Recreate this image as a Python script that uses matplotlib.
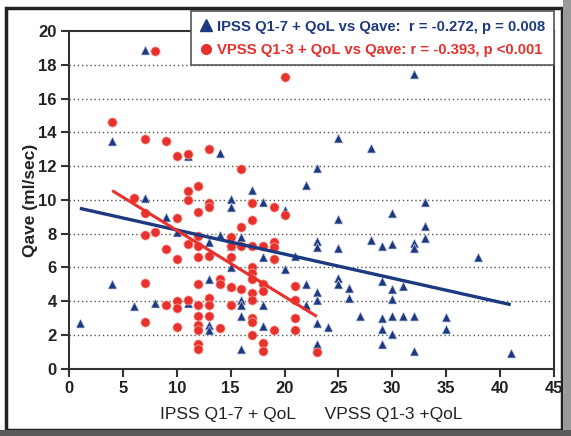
import matplotlib
matplotlib.use("Agg")
import matplotlib.pyplot as plt
from matplotlib.lines import Line2D
from matplotlib.patches import Rectangle
import numpy as np

plt.rcParams['font.family'] = ['Liberation Sans Narrow', 'Liberation Sans', 'DejaVu Sans']

# ---- data ----
ipss_x = [1, 4, 4, 6, 7, 7, 8, 9, 10, 11, 11, 13, 13, 13, 13, 14, 14, 15, 15, 15, 15, 15,
          16, 16, 16, 16, 16, 17, 18, 18, 18, 18, 20, 20, 21, 22, 22, 22, 23, 23, 23, 23,
          23, 23, 23, 24, 25, 25, 25, 25, 25, 26, 26, 27, 28, 28, 29, 29, 29, 29, 29,
          30, 30, 30, 30, 30, 30, 31, 31, 32, 32, 32, 32, 32, 33, 33, 33, 35, 35, 38, 41]
ipss_y = [2.7, 13.5, 5.0, 3.7, 18.9, 10.1, 3.9, 9.0, 8.1, 12.6, 3.9, 7.5, 5.3, 2.6, 2.3,
          12.75, 7.9, 10.05, 9.6, 7.3, 6.05, 4.9, 7.8, 4.1, 3.8, 3.1, 1.15, 10.6, 9.9, 6.65,
          3.8, 2.55, 9.4, 5.9, 6.7, 10.9, 5.0, 3.8, 11.9, 7.55, 7.2, 4.55, 4.1, 2.7, 1.5,
          2.45, 13.65, 8.85, 7.15, 5.4, 5.0, 4.8, 4.2, 3.15, 13.1, 7.6, 7.3, 5.2, 3.0, 2.35,
          1.5, 9.2, 7.4, 4.7, 4.15, 3.15, 2.07, 4.9, 3.15, 17.45, 7.45, 7.15, 3.15, 1.05,
          9.85, 8.45, 7.75, 3.05, 2.35, 6.6, 0.95]

vpss_x = [4, 6, 7, 7, 7, 7, 7, 8, 8, 9, 9, 9, 10, 10, 10, 10, 10, 10, 11, 11, 11, 11, 11,
          12, 12, 12, 12, 12, 12, 12, 12, 12, 12, 12, 12, 13, 13, 13, 13, 13, 13, 13,
          14, 14, 14, 15, 15, 15, 15, 15, 16, 16, 16, 16, 17, 17, 17, 17, 17, 17, 17, 17,
          17, 17, 17, 18, 18, 18, 18, 18, 19, 19, 19, 19, 19, 20, 20, 21, 21, 21, 21, 23]
vpss_y = [14.6, 10.1, 13.6, 9.2, 7.9, 5.1, 2.75, 18.8, 8.1, 13.5, 7.1, 3.8, 12.6, 8.9, 6.5,
          4.0, 3.6, 2.5, 12.7, 10.5, 10.0, 7.4, 4.05, 10.8, 9.3, 7.85, 7.3, 6.6, 5.0, 3.8,
          3.1, 2.6, 2.3, 1.5, 1.15, 13.0, 9.8, 9.6, 6.7, 4.2, 3.8, 3.1, 5.3, 5.0, 2.4, 7.8,
          7.3, 6.6, 4.85, 3.75, 11.8, 8.4, 7.3, 4.7, 9.8, 8.8, 7.3, 6.05, 5.7, 5.3, 4.5,
          4.1, 3.0, 2.8, 2.0, 7.3, 5.0, 4.6, 1.55, 1.05, 9.6, 7.5, 7.2, 6.5, 2.3, 17.3, 9.1,
          4.9, 4.05, 3.0, 2.3, 1.0]

# regression lines (end points)
ipss_fit_x = [1, 41]
ipss_fit_y = [9.5, 3.8]
vpss_fit_x = [4, 23]
vpss_fit_y = [10.55, 3.1]

ipss_label = "IPSS Q1-7 + QoL vs Qave:  r = -0.272, p = 0.008"
vpss_label = "VPSS Q1-3 + QoL vs Qave: r = -0.393, p <0.001"
xlabel = "IPSS Q1-7 + QoL      VPSS Q1-3 +QoL"
ylabel = "Qave (ml/sec)"
xticks = list(range(0, 46, 5))
yticks = list(range(0, 21, 2))

BLUE = '#1d3a80'
RED = '#e8302c'

fig = plt.figure(figsize=(5.71, 4.36), dpi=100)
ax = fig.add_axes([0.121, 0.154, 0.849, 0.775])

# grid
for yv in yticks[1:-1]:
    ax.axhline(yv, color='#555555', lw=1.0, ls=(0, (1, 2)), zorder=0)

ax.scatter(ipss_x, ipss_y, marker='^', s=42, color=BLUE, edgecolors='#c8d0e6', linewidths=0.5, zorder=3)
ax.scatter(vpss_x, vpss_y, marker='o', s=44, color=RED, edgecolors='#f4b0a8', linewidths=0.5, zorder=3)

ax.plot(ipss_fit_x, ipss_fit_y, color=BLUE, lw=2.4, zorder=4, solid_capstyle='butt')
ax.plot(vpss_fit_x, vpss_fit_y, color=RED, lw=2.2, zorder=4, solid_capstyle='butt')

ax.set_xlim(0, 45)
ax.set_ylim(0, 20)
ax.set_xticks(xticks)
ax.set_yticks(yticks)
for lab in ax.get_xticklabels() + ax.get_yticklabels():
    lab.set_fontweight('bold')
    lab.set_fontsize(12)
    lab.set_color('#222222')
ax.tick_params(axis='both', direction='out', length=6, width=1.5, color='#333333', pad=3)

for sp in ax.spines.values():
    sp.set_linewidth(1.5)
    sp.set_color('#333333')

ax.set_ylabel(ylabel, fontsize=12.5, fontweight='bold', color='#222222', labelpad=0)
ax.set_xlabel(xlabel, fontsize=12.5, color='#222222', labelpad=8)

handles = [Line2D([], [], marker='^', ls='none', color=BLUE, markersize=8),
           Line2D([], [], marker='o', ls='none', color=RED, markersize=7)]
leg = ax.legend(handles, [ipss_label, vpss_label], loc='upper right',
                bbox_to_anchor=(1.0, 1.058), borderaxespad=0, frameon=True,
                fancybox=False, framealpha=1, edgecolor='#555555',
                handlelength=0.8, handletextpad=0.4, borderpad=0.55, labelspacing=0.65,
                prop={'size': 10.7, 'weight': 'bold'})
leg.get_frame().set_linewidth(1.2)
leg.get_texts()[0].set_color(BLUE)
leg.get_texts()[1].set_color(RED)
leg.set_zorder(10)

# outer frame
fig.patches.append(Rectangle((6 / 571, 6 / 436), 556 / 571, 422 / 436, transform=fig.transFigure,
                             fill=False, edgecolor='#222222', lw=2.5))
fig.patches.append(Rectangle((563 / 571, 0), 8 / 571, 1, transform=fig.transFigure,
                             facecolor='#9a9a9a', edgecolor='none'))
fig.patches.append(Rectangle((0, 0), 1, 6 / 436, transform=fig.transFigure,
                             facecolor='#5a5a5a', edgecolor='none'))

fig.savefig('out.png', dpi=100)
